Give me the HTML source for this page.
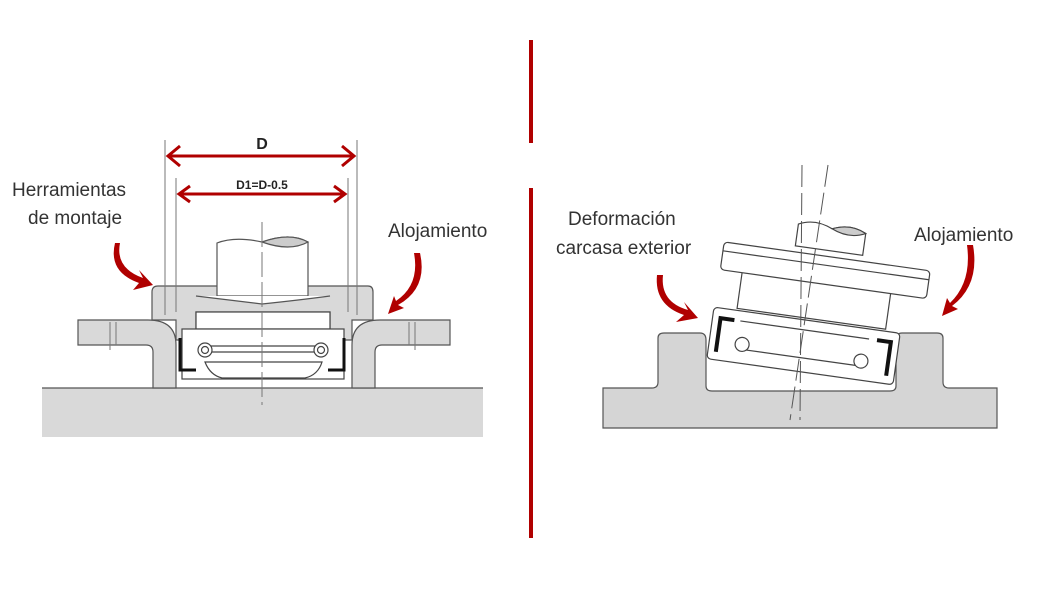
<!DOCTYPE html>
<html><head><meta charset="utf-8"><style>
html,body{margin:0;padding:0;background:#fff;}
svg{display:block;}
text{font-family:"Liberation Sans",sans-serif;}
</style></head><body>
<svg width="1050" height="600" viewBox="0 0 1050 600" xmlns="http://www.w3.org/2000/svg">
<!-- dividers -->
<rect x="529" y="40" width="4" height="103" fill="#b00000"/>
<rect x="529" y="188" width="4" height="350" fill="#b00000"/>

<!-- LEFT DIAGRAM -->
<g stroke="#555" stroke-width="1.2" fill="#d9d9d9">
<rect x="42" y="388" width="441" height="49" stroke="none"/>
<line x1="42" y1="388" x2="483" y2="388"/>
<path d="M78,320 H148 Q176,320 176,345 V388 H153 V352 Q153,345 146,345 H78 Z"/>
<path d="M450,320 H380 Q352,320 352,345 V388 H375 V352 Q375,345 382,345 H450 Z"/>
<path d="M158,286 H368 Q373,286 373,292 V320 H352 V340 H330 V312 H196 V340 H176 V320 H152 V292 Q152,286 158,286 Z"/>
<path d="M217,296 V243 Q235,236 262,242 Q290,232 308,242 V296 Z" fill="#fff"/>
<path d="M262,242 Q290,232 308,242 Q290,252 262,242Z" fill="#ccc"/>
<path d="M196,296 Q230,300 262,304 Q300,300 330,296" fill="#fff"/>
</g>
<g stroke="#444" stroke-width="1.2" fill="#fff">
<rect x="196" y="312" width="134" height="17" fill="#fff"/>
<rect x="182" y="329" width="162" height="50" fill="#fff"/>
<path d="M205,362 Q210,375 222,378 H305 Q318,375 322,362 Z"/>
<line x1="205" y1="352" x2="322" y2="352"/>
<line x1="205" y1="346" x2="322" y2="346"/>
<circle cx="205" cy="350" r="7"/><circle cx="205" cy="350" r="3.5"/>
<circle cx="321" cy="350" r="7"/><circle cx="321" cy="350" r="3.5"/>
</g>
<path d="M180,338 V370 H196" fill="none" stroke="#111" stroke-width="3"/>
<path d="M344,338 V370 H328" fill="none" stroke="#111" stroke-width="3"/>
<g stroke="#777" stroke-width="1">
<line x1="165" y1="140" x2="165" y2="315"/>
<line x1="357" y1="140" x2="357" y2="315"/>
<line x1="176" y1="178" x2="176" y2="312"/>
<line x1="348" y1="178" x2="348" y2="312"/>
<line x1="262" y1="222" x2="262" y2="405" stroke-dasharray="25,5"/>
<line x1="110" y1="322" x2="110" y2="350"/><line x1="116" y1="322" x2="116" y2="345"/>
<line x1="415" y1="322" x2="415" y2="350"/><line x1="409" y1="322" x2="409" y2="345"/>
</g>
<g stroke="#b00000" stroke-width="3" fill="none">
<line x1="168" y1="156" x2="354" y2="156"/>
<path d="M180,146 L168,156 L180,166 M342,146 L354,156 L342,166"/>
<line x1="179" y1="194" x2="345" y2="194"/>
<path d="M190,186 L179,194 L190,202 M334,186 L345,194 L334,202"/>
</g>
<text x="262" y="149" font-size="16" font-weight="bold" text-anchor="middle" fill="#222">D</text>
<text x="262" y="189" font-size="12" font-weight="bold" text-anchor="middle" fill="#222">D1=D-0.5</text>

<g fill="#b00000">
<path d="M120,243 Q115,268 143,278 L139,270 L153,285 L133,290 L139,283 Q108,272 115,243 Z"/>
<path d="M420,253 Q428,288 398,305 L404,308 L388,314 L394,296 L396,301 Q420,285 414,253 Z"/>
<path d="M663,275 Q660,302 688,310 L684,302 L698,318 L676,322 L684,315 Q654,305 657,275 Z"/>
<path d="M973,245 Q980,285 952,306 L958,309 L942,316 L947,298 L950,303 Q972,282 967,245 Z"/>
</g>

<g font-size="19" fill="#333">
<text x="12" y="196">Herramientas</text>
<text x="28" y="224">de montaje</text>
<text x="388" y="237">Alojamiento</text>
<text x="568" y="225">Deformación</text>
<text x="556" y="254">carcasa exterior</text>
<text x="914" y="241">Alojamiento</text>
</g>

<!-- RIGHT DIAGRAM -->
<path d="M603,388 H652 Q658,388 658,382 V338 Q658,333 664,333 H700 Q706,333 706,340 V386 Q706,391 712,391 H890 Q896,391 896,386 V340 Q896,333 902,333 H937 Q943,333 943,338 V382 Q943,388 949,388 H997 V428 H603 Z" fill="#d5d5d5" stroke="#555" stroke-width="1.2"/>
<g transform="translate(0 8) rotate(8 805 320)" stroke="#444" stroke-width="1.2" fill="#fff">
<path d="M784,240 V218 Q800,210 818,218 Q836,210 852,218 V240 Z"/>
<path d="M818,218 Q836,210 852,218 Q836,226 818,218Z" fill="#ccc"/>
<rect x="735" y="270" width="150" height="40"/>
<rect x="713" y="246" width="208" height="28" rx="4"/>
<line x1="713" y1="255" x2="921" y2="255"/>
<rect x="712" y="312" width="188" height="52" rx="4"/>
<line x1="740" y1="322" x2="870" y2="322"/>
<line x1="740" y1="350" x2="870" y2="350"/>
<circle cx="745" cy="345" r="7"/><circle cx="865" cy="345" r="7"/>
<path d="M720,356 V322 H734" fill="none" stroke="#111" stroke-width="4"/>
<path d="M892,356 V322 H878" fill="none" stroke="#111" stroke-width="4"/>
</g>
<g stroke="#555" stroke-width="1" stroke-dasharray="22,6">
<line x1="802" y1="165" x2="800" y2="420"/>
<line x1="828" y1="165" x2="790" y2="420"/>
</g>
</svg>
</body></html>
